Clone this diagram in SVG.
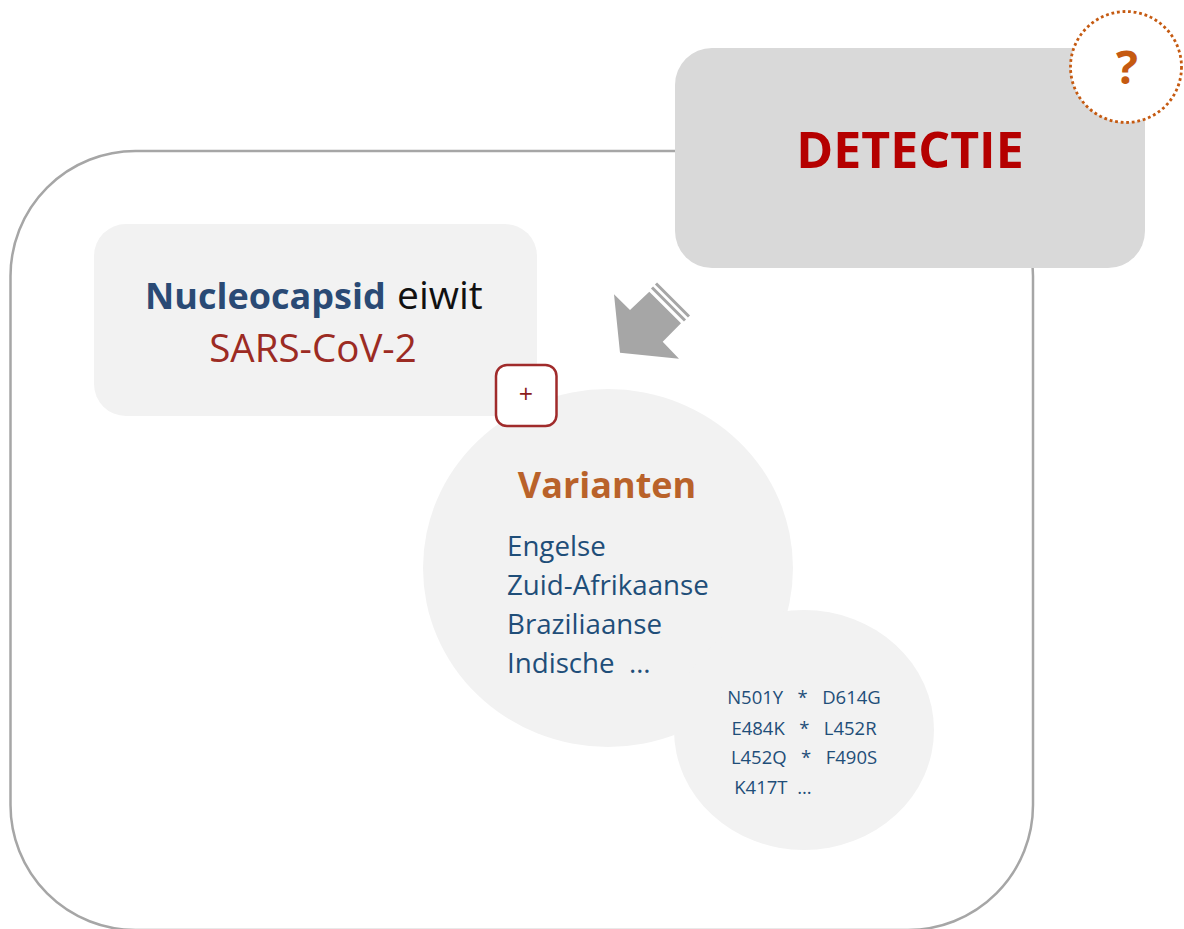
<svg xmlns="http://www.w3.org/2000/svg" width="1184" height="929" viewBox="0 0 1184 929">
<style>
text{font-family:"Open Sans","Noto Sans","Liberation Sans",sans-serif}
.soft{fill:#f2f2f2}
.blue{fill:#1f4e79}
.var{font-size:27.700px}
.mut{font-size:18.500px;text-anchor:middle}
</style>
<rect width="1184" height="929" fill="#fff"/>
<g id="frame"><rect x="10.500" y="151" width="1022.500" height="779" rx="125" ry="125" fill="#fff" stroke="#a6a6a6" stroke-width="2.500"/></g>
<g id="detectie">
<rect x="675" y="48" width="470" height="220" rx="37" ry="37" fill="#d9d9d9"/>
<text x="910" y="168" font-size="50" font-weight="700" fill="#b50000" text-anchor="middle">DETECTIE</text>
</g>
<g id="vraag">
<circle cx="1126" cy="67" r="55.500" fill="#fff" stroke="#c55a11" stroke-width="2.800" stroke-dasharray="2.800 2.800"/>
<text x="1127" y="84" font-size="46" font-weight="700" fill="#c55a11" text-anchor="middle">?</text>
</g>
<g id="nucleocapsid">
<rect x="94" y="224" width="443" height="192" rx="32" ry="32" class="soft"/>
<text x="145" y="309" font-size="36" fill="#111"><tspan font-weight="700" fill="#2a4a75">Nucleocapsid</tspan><tspan x="397" font-size="39">eiwit</tspan></text>
<text x="313" y="362" font-size="38.500" fill="#9c2b23" text-anchor="middle">SARS-CoV-2</text>
</g>
<g id="connectors">
<polygon points="614,294.300 630,310 649.300,291.700 681,323.300 662.700,341.700 679,358.700 620,352.700" fill="#a6a6a6"/>
<path d="M652 287.500 L685 320.500 M656 283.500 L689 316.500" stroke="#a6a6a6" stroke-width="3" fill="none"/>
</g>
<g id="varianten">
<ellipse cx="608" cy="568" rx="185" ry="179" class="soft"/>
<text x="607" y="498" font-size="36" font-weight="700" fill="#b9622a" text-anchor="middle">Varianten</text>
<text x="507" y="556" class="var blue">Engelse</text>
<text x="507" y="595" class="var blue">Zuid-Afrikaanse</text>
<text x="507" y="634" class="var blue">Braziliaanse</text>
<text x="507" y="673" class="var blue" xml:space="preserve">Indische  …</text>
</g>
<g id="plus">
<rect x="496" y="365" width="60.500" height="61" rx="11" ry="11" fill="#fff" stroke="#a02b2b" stroke-width="2.500"/>
<text x="526" y="403" font-size="25" fill="#8c1c1c" text-anchor="middle">+</text>
</g>
<g id="mutaties">
<ellipse cx="804" cy="730" rx="130" ry="120" class="soft"/>
<text x="804" y="704" class="mut blue" xml:space="preserve">N501Y   *   D614G</text>
<text x="804" y="735" class="mut blue" xml:space="preserve">E484K   *   L452R</text>
<text x="804" y="764" class="mut blue" xml:space="preserve">L452Q   *   F490S</text>
<text x="773" y="794" class="mut blue" xml:space="preserve">K417T  ...</text>
</g>
</svg>
